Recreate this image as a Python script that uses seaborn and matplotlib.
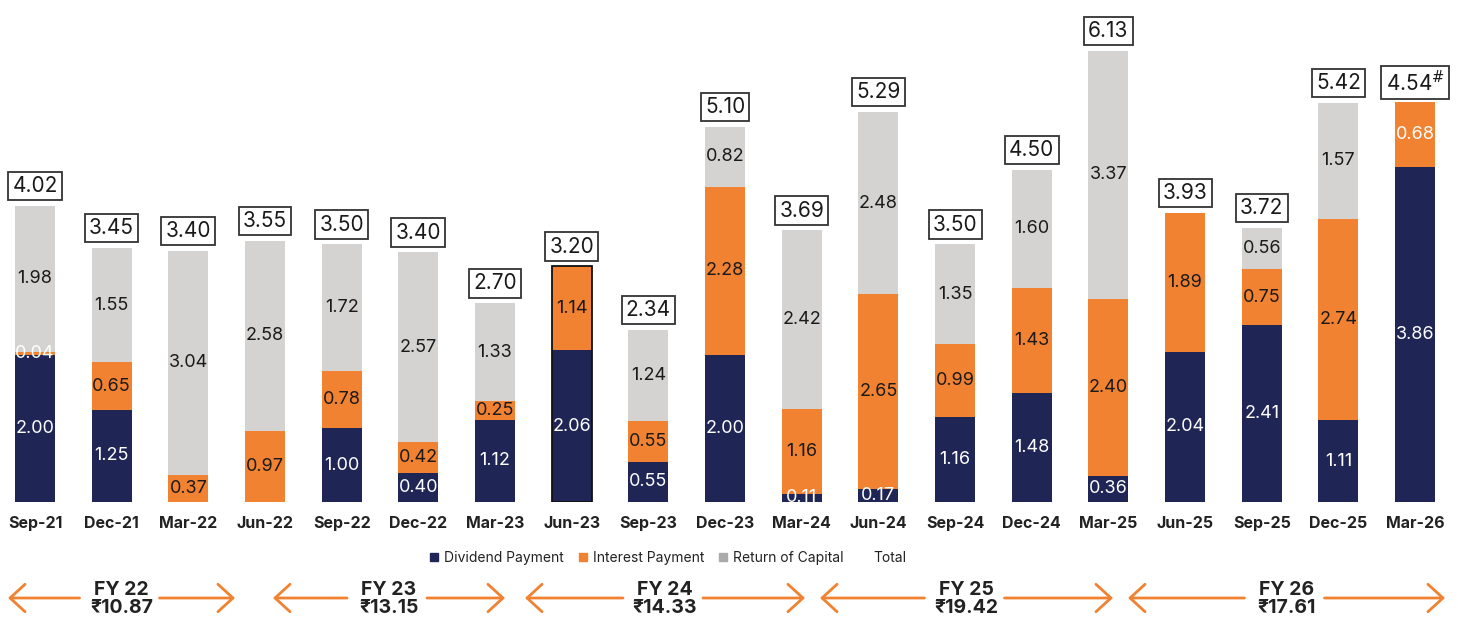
import numpy as np
import pandas as pd
import matplotlib.pyplot as plt
import seaborn as sns
from matplotlib.patches import Patch

months = ["Sep-21", "Dec-21", "Mar-22", "Jun-22", "Sep-22", "Dec-22", "Mar-23",
          "Jun-23", "Sep-23", "Dec-23", "Mar-24", "Jun-24", "Sep-24", "Dec-24",
          "Mar-25", "Jun-25", "Sep-25", "Dec-25", "Mar-26"]
dividend = [2.00, 1.25, 0.00, 0.00, 1.00, 0.40, 1.12, 2.06, 0.55, 2.00, 0.11,
            0.17, 1.16, 1.48, 0.36, 2.04, 2.41, 1.11, 3.86]
interest = [0.04, 0.65, 0.37, 0.97, 0.78, 0.42, 0.25, 1.14, 0.55, 2.28, 1.16,
            2.65, 0.99, 1.43, 2.40, 1.89, 0.75, 2.74, 0.68]
capital = [1.98, 1.55, 3.04, 2.58, 1.72, 2.57, 1.33, 0.00, 1.24, 0.82, 2.42,
           2.48, 1.35, 1.60, 3.37, 0.00, 0.56, 1.57, 0.00]
totals = ["4.02", "3.45", "3.40", "3.55", "3.50", "3.40", "2.70", "3.20", "2.34",
          "5.10", "3.69", "5.29", "3.50", "4.50", "6.13", "3.93", "3.72", "5.42",
          "4.54$^{\\#}$"]
# the Mar-26 bar is drawn taller than its printed values in the source chart
drawn_override = {"Mar-26": (4.55, 0.88, 0.00)}
fy_names = ["FY 22", "FY 23", "FY 24", "FY 25", "FY 26"]
fy_totals = ["₹10.87", "₹13.15", "₹14.33", "₹19.42", "₹17.61"]

NAVY = "#1f2555"
ORANGE = "#f08232"
GRAY = "#d4d3d1"
white_on_orange = ["Sep-21", "Mar-26"]
outlined = "Jun-23"

df = pd.DataFrame({"month": months, "dividend": dividend,
                   "interest": interest, "capital": capital})
for m, (d, it, c) in drawn_override.items():
    df.loc[df["month"] == m, ["dividend", "interest", "capital"]] = [d, it, c]
df["di"] = df["dividend"] + df["interest"]
df["top"] = df["di"] + df["capital"]

sns.set_theme(style="white")
plt.rcParams["font.family"] = ["Inter", "DejaVu Sans"]

fig = plt.figure(figsize=(14.58, 6.19), dpi=100)
ax = fig.add_axes([0, 117 / 619, 1, 502 / 619])

for col, c in [("top", GRAY), ("di", ORANGE), ("dividend", NAVY)]:
    sns.barplot(data=df, x="month", y=col, color=c, width=0.52,
                saturation=1, linewidth=0, ax=ax)

hl = months.index(outlined)
ax.bar(hl, df["top"][hl], width=0.52, fill=False, edgecolor="#111", linewidth=1.3)

for i, m in enumerate(months):
    d, it, c = df.loc[i, ["dividend", "interest", "capital"]]
    layers = [(dividend[i], d, 0, "white"),
              (interest[i], it, d, "white" if m in white_on_orange else "#1a1a1a"),
              (capital[i], c, d + it, "#1a1a1a")]
    for val, h, base, tc in layers:
        if val > 0:
            ax.text(i, base + h / 2, f"{val:.2f}", ha="center", va="center",
                    fontsize=13, color=tc, clip_on=True)
    ax.text(i, df["top"][i] + 0.27, totals[i], ha="center", va="center",
            fontsize=15, color="#1a1a1a",
            bbox=dict(boxstyle="square,pad=0.2", fc="white", ec="#333", lw=1.3))

ax.set_xlim(-0.4565, 18.56)
ax.set_ylim(0, 6.82)
ax.set_xlabel("")
ax.set_ylabel("")
ax.set_yticks([])
ax.set_xticks(range(len(months)))
ax.set_xticklabels(months, fontsize=11.5, fontweight="bold", color="#222")
ax.tick_params(axis="x", length=0, pad=10)
sns.despine(ax=ax, left=True, bottom=True)

handles = [Patch(color=NAVY), Patch(color=ORANGE), Patch(color="#aaaaaa"),
           Patch(facecolor="none", edgecolor="none")]
fig.legend(handles, ["Dividend Payment", "Interest Payment", "Return of Capital", "Total"],
           loc="center", bbox_to_anchor=(668 / 1458, 1 - 558 / 619), ncol=4,
           frameon=False, fontsize=10, handlelength=0.55, handleheight=0.55,
           handletextpad=0.45, columnspacing=1.1, labelcolor="#222")

# FY brackets along the bottom, in figure pixels
ov = fig.add_axes([0, 0, 1, 1])
ov.set_xlim(0, 1458)
ov.set_ylim(619, 0)
ov.axis("off")
spans = [(8, 235), (273, 505), (525, 805), (820, 1113), (1128, 1445)]
for (x0, x1), name, tot in zip(spans, fy_names, fy_totals):
    cx = (x0 + x1) / 2
    ov.text(cx, 590, name, ha="center", va="center", fontsize=14,
            fontweight="bold", color="#222")
    ov.text(cx, 608, tot, ha="center", va="center", fontsize=14,
            fontweight="bold", color="#222")
    for start, end in [(cx - 42, x0), (cx + 38, x1)]:
        ov.annotate("", xy=(end, 598), xytext=(start, 598),
                    arrowprops=dict(arrowstyle="->,head_length=0.6,head_width=0.55",
                                    color=ORANGE, lw=2, mutation_scale=18,
                                    shrinkA=0, shrinkB=0))

fig.savefig("out.png", dpi=100)
